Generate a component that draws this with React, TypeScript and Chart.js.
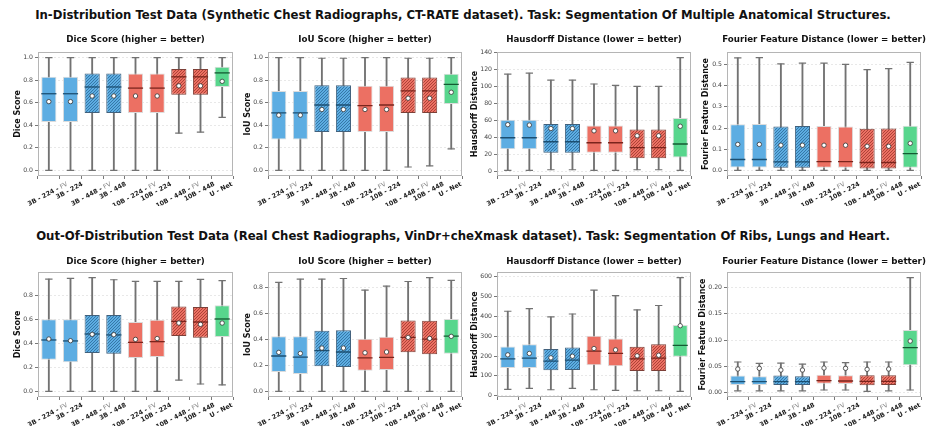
import React, { useEffect, useRef } from "react";
import { Chart, registerables } from "chart.js";

Chart.register(...registerables);

const FONT = "'DejaVu Sans', 'Noto Sans', sans-serif";

// ---------------- DATA ----------------
const categories = [
  "3B - 224 - FV", "3B - 224", "3B - 448 - FV", "3B - 448",
  "10B - 224 - FV", "10B - 224", "10B - 448 - FV", "10B - 448", "U - Net",
];

const mainTitleID = "In-Distribution Test Data (Synthetic Chest Radiographs, CT-RATE dataset). Task: Segmentation Of Multiple Anatomical Structures.";
const mainTitleOOD = "Out-Of-Distribution Test Data (Real Chest Radiographs, VinDr+cheXmask dataset). Task: Segmentation Of Ribs, Lungs and Heart.";

// In-distribution: Dice
const idDiceMin = [0, 0, 0, 0, 0, 0, 0.33, 0.34, 0.47];
const idDiceQ1 = [0.43, 0.43, 0.51, 0.51, 0.51, 0.51, 0.67, 0.67, 0.74];
const idDiceMed = [0.68, 0.68, 0.74, 0.74, 0.73, 0.73, 0.83, 0.83, 0.865];
const idDiceQ3 = [0.83, 0.83, 0.86, 0.86, 0.86, 0.86, 0.9, 0.9, 0.92];
const idDiceMax = [1, 1, 1, 1, 1, 1, 1, 1, 1];
const idDiceMean = [0.61, 0.61, 0.66, 0.66, 0.66, 0.66, 0.75, 0.75, 0.79];
const idDiceTicks = [0, 0.2, 0.4, 0.6, 0.8, 1.0];

// In-distribution: IoU
const idIouMin = [0, 0, 0, 0, 0, 0, 0.03, 0.04, 0.19];
const idIouQ1 = [0.275, 0.275, 0.34, 0.34, 0.34, 0.34, 0.51, 0.51, 0.59];
const idIouMed = [0.51, 0.51, 0.58, 0.58, 0.575, 0.58, 0.705, 0.705, 0.763];
const idIouQ3 = [0.705, 0.705, 0.755, 0.755, 0.75, 0.75, 0.825, 0.825, 0.857];
const idIouMax = [1, 1, 0.995, 0.995, 1, 1, 0.995, 0.995, 1];
const idIouMean = [0.49, 0.49, 0.54, 0.54, 0.54, 0.54, 0.64, 0.64, 0.693];
const idIouTicks = [0, 0.2, 0.4, 0.6, 0.8, 1.0];

// In-distribution: Hausdorff
const idHdMin = [1.2, 1.2, 1.9, 1.9, 1.2, 1.2, 1.9, 1.9, 1.2];
const idHdQ1 = [26, 26, 22, 22, 22, 22, 15.5, 15.5, 16.3];
const idHdMed = [39.6, 39.6, 34.9, 34.9, 33.7, 33.7, 27.9, 27.9, 32.2];
const idHdQ3 = [60.9, 60.9, 55.8, 55.8, 53.9, 53.9, 49.3, 49.3, 62.8];
const idHdMax = [114.4, 115.6, 107.4, 107.4, 102.8, 101.2, 100, 100, 133.8];
const idHdMean = [55, 54.5, 50.4, 50.4, 47.7, 47.7, 41.9, 41.9, 53.1];
const idHdTicks = [0, 20, 40, 60, 80, 100, 120, 140];

// In-distribution: Fourier feature distance
const idFfMin = [0.002, 0.002, 0.002, 0.002, 0.002, 0.002, 0.002, 0.002, 0.002];
const idFfQ1 = [0.0155, 0.0155, 0.014, 0.014, 0.014, 0.014, 0.011, 0.011, 0.014];
const idFfMed = [0.053, 0.053, 0.042, 0.042, 0.043, 0.043, 0.039, 0.039, 0.081];
const idFfQ3 = [0.219, 0.22, 0.208, 0.21, 0.21, 0.208, 0.197, 0.199, 0.211];
const idFfMax = [0.53, 0.531, 0.502, 0.505, 0.505, 0.5, 0.475, 0.48, 0.509];
const idFfMean = [0.124, 0.124, 0.12, 0.12, 0.12, 0.12, 0.115, 0.115, 0.129];
const idFfTicks = [0, 0.1, 0.2, 0.3, 0.4, 0.5];

// Out-of-distribution: Dice
const oodDiceMin = [0, 0, 0, 0, 0, 0, 0.094, 0.061, 0.053];
const oodDiceQ1 = [0.264, 0.242, 0.319, 0.314, 0.278, 0.286, 0.461, 0.447, 0.453];
const oodDiceMed = [0.428, 0.42, 0.478, 0.47, 0.408, 0.414, 0.583, 0.578, 0.603];
const oodDiceQ3 = [0.6, 0.6, 0.636, 0.636, 0.578, 0.597, 0.708, 0.703, 0.717];
const oodDiceMax = [0.936, 0.942, 0.947, 0.93, 0.917, 0.917, 0.917, 0.933, 0.922];
const oodDiceMean = [0.436, 0.422, 0.475, 0.472, 0.433, 0.44, 0.569, 0.558, 0.569];
const oodDiceTicks = [0, 0.2, 0.4, 0.6, 0.8];

// Out-of-distribution: IoU
const oodIouMin = [0, 0, 0, 0, 0, 0, 0, 0, 0];
const oodIouQ1 = [0.148, 0.133, 0.192, 0.187, 0.158, 0.164, 0.299, 0.284, 0.289];
const oodIouMed = [0.271, 0.263, 0.312, 0.302, 0.256, 0.261, 0.414, 0.401, 0.424];
const oodIouQ3 = [0.422, 0.422, 0.465, 0.468, 0.404, 0.419, 0.544, 0.542, 0.555];
const oodIouMax = [0.836, 0.861, 0.861, 0.866, 0.777, 0.808, 0.843, 0.872, 0.851];
const oodIouMean = [0.299, 0.291, 0.332, 0.332, 0.296, 0.302, 0.414, 0.406, 0.422];
const oodIouTicks = [0, 0.2, 0.4, 0.6, 0.8];

// Out-of-distribution: Hausdorff
const oodHdMin = [32, 37, 30, 37, 30, 27, 25, 25, 22];
const oodHdQ1 = [140, 140, 128, 130, 154, 149, 125, 125, 196];
const oodHdMed = [186, 189, 174, 179, 225, 213, 186, 189, 254];
const oodHdQ3 = [248, 259, 235, 243, 302, 289, 247, 259, 357];
const oodHdMax = [426, 439, 397, 412, 532, 505, 433, 455, 595];
const oodHdMean = [206, 213, 191, 199, 238, 231, 201, 204, 353];
const oodHdTicks = [0, 100, 200, 300, 400, 500, 600];

// Out-of-distribution: Fourier feature distance
const oodFfMin = [0.003, 0.003, 0.003, 0.003, 0.0045, 0.0045, 0.002, 0.003, 0.0045];
const oodFfQ1 = [0.014, 0.014, 0.014, 0.014, 0.0166, 0.016, 0.0134, 0.014, 0.0516];
const oodFfMed = [0.0204, 0.0204, 0.0204, 0.0204, 0.0223, 0.0217, 0.021, 0.021, 0.0853];
const oodFfQ3 = [0.032, 0.0306, 0.032, 0.031, 0.0338, 0.0325, 0.0325, 0.0325, 0.119];
const oodFfMax = [0.058, 0.0554, 0.056, 0.054, 0.058, 0.0567, 0.058, 0.058, 0.219];
const oodFfMean = [0.0446, 0.0459, 0.0427, 0.0427, 0.0465, 0.0459, 0.044, 0.0446, 0.098];
const oodFfTicks = [0, 0.05, 0.1, 0.15, 0.2];

// ---------------- STYLE ----------------
const BLUE = "#5DADE2";
const RED = "#EC7063";
const GREEN = "#58D68D";
const baseColors = [BLUE, BLUE, BLUE, BLUE, RED, RED, RED, RED, GREEN];
const hatchLineColors = ["", "", "#24618f", "#24618f", "", "", "#932f24", "#932f24", ""];
const edgeColors = ["#dcdcdc", "#dcdcdc", "#41617d", "#41617d", "#dcdcdc", "#dcdcdc", "#7d4038", "#7d4038", "#dcdcdc"];
const medianColors = ["#1B4F72", "#1B4F72", "#1B4F72", "#1B4F72", "#7B241C", "#7B241C", "#7B241C", "#7B241C", "#145A32"];

const colLeft = [38, 268, 497, 727];
const colRight = [233, 462, 691, 921];
const rowCanvasTop = [30, 250];
const rowTitlePad = [
  { top: 4.9, bottom: 6.7 },
  { top: 6.9, bottom: 4.7 },
];
const AXIS_W = 38;
const CANVAS_H = 176;
const ROW_XAXIS_H = [30, 29];

type Panel = {
  title: string; yTitle: string;
  min: number[]; q1: number[]; med: number[]; q3: number[]; max: number[]; mean: number[];
  ticks: number[]; dec: number; row: number; col: number; yPad: number;
};

const panels: Panel[] = [
  { title: "Dice Score (higher = better)", yTitle: "Dice Score", min: idDiceMin, q1: idDiceQ1, med: idDiceMed, q3: idDiceQ3, max: idDiceMax, mean: idDiceMean, ticks: idDiceTicks, dec: 1, row: 0, col: 0, yPad: 13 },
  { title: "IoU Score (higher = better)", yTitle: "IoU Score", min: idIouMin, q1: idIouQ1, med: idIouMed, q3: idIouQ3, max: idIouMax, mean: idIouMean, ticks: idIouTicks, dec: 1, row: 0, col: 1, yPad: 13 },
  { title: "Hausdorff Distance (lower = better)", yTitle: "Hausdorff Distance", min: idHdMin, q1: idHdQ1, med: idHdMed, q3: idHdQ3, max: idHdMax, mean: idHdMean, ticks: idHdTicks, dec: 0, row: 0, col: 2, yPad: 11 },
  { title: "Fourier Feature Distance (lower = better)", yTitle: "Fourier Feature Distance", min: idFfMin, q1: idFfQ1, med: idFfMed, q3: idFfQ3, max: idFfMax, mean: idFfMean, ticks: idFfTicks, dec: 1, row: 0, col: 3, yPad: 12 },
  { title: "Dice Score (higher = better)", yTitle: "Dice Score", min: oodDiceMin, q1: oodDiceQ1, med: oodDiceMed, q3: oodDiceQ3, max: oodDiceMax, mean: oodDiceMean, ticks: oodDiceTicks, dec: 1, row: 1, col: 0, yPad: 13 },
  { title: "IoU Score (higher = better)", yTitle: "IoU Score", min: oodIouMin, q1: oodIouQ1, med: oodIouMed, q3: oodIouQ3, max: oodIouMax, mean: oodIouMean, ticks: oodIouTicks, dec: 1, row: 1, col: 1, yPad: 13 },
  { title: "Hausdorff Distance (lower = better)", yTitle: "Hausdorff Distance", min: oodHdMin, q1: oodHdQ1, med: oodHdMed, q3: oodHdQ3, max: oodHdMax, mean: oodHdMean, ticks: oodHdTicks, dec: 0, row: 1, col: 2, yPad: 11 },
  { title: "Fourier Feature Distance (lower = better)", yTitle: "Fourier Feature Distance", min: oodFfMin, q1: oodFfQ1, med: oodFfMed, q3: oodFfQ3, max: oodFfMax, mean: oodFfMean, ticks: oodFfTicks, dec: 2, row: 1, col: 3, yPad: 9.5 },
];

function makeHatch(base: string, line: string): CanvasPattern | string {
  const s = 3;
  const c = document.createElement("canvas");
  c.width = s;
  c.height = s;
  const g = c.getContext("2d");
  if (!g) return base;
  g.fillStyle = base;
  g.fillRect(0, 0, s, s);
  g.strokeStyle = line;
  g.lineWidth = 0.7;
  g.beginPath();
  for (const k of [-s, 0, s]) {
    g.moveTo(k, s);
    g.lineTo(k + s, 0);
  }
  g.stroke();
  return g.createPattern(c, "repeat") || base;
}

const framePlugin = {
  id: "frameAndLabels",
  afterDraw(chart: any) {
    const { ctx, chartArea: ca } = chart;
    const xs = chart.scales.x;
    ctx.save();
    ctx.strokeStyle = "#b5b5b5";
    ctx.lineWidth = 1;
    ctx.strokeRect(Math.round(ca.left) + 0.5, Math.round(ca.top) + 0.5, Math.round(ca.right - ca.left) - 1, Math.round(ca.bottom - ca.top) - 1);
    const a = (28 * Math.PI) / 180;
    const fs = 6.3;
    categories.forEach((lab, i) => {
      const x = xs.getPixelForTick(i);
      let main = lab;
      let suf = "";
      if (lab.endsWith("FV")) {
        main = lab.slice(0, -2);
        suf = "FV";
      }
      ctx.font = `bold ${fs}px ${FONT}`;
      const w1 = ctx.measureText(main).width;
      ctx.font = `${fs}px ${FONT}`;
      const w2 = suf ? ctx.measureText(suf).width : 0;
      const W = w1 + w2;
      const h = W * Math.sin(a) + fs * Math.cos(a);
      const cy = ca.bottom + 5 + h / 2;
      ctx.save();
      ctx.translate(x - 1, cy);
      ctx.rotate(-a);
      ctx.textBaseline = "middle";
      ctx.textAlign = "left";
      ctx.font = `bold ${fs}px ${FONT}`;
      ctx.fillStyle = "#222";
      ctx.fillText(main, -W / 2, 0);
      if (suf) {
        ctx.font = `${fs}px ${FONT}`;
        ctx.fillStyle = "#888";
        ctx.fillText(suf, -W / 2 + w1, 0);
      }
      ctx.restore();
    });
    ctx.restore();
  },
};

function BoxPanel({ p }: { p: Panel }) {
  const ref = useRef<HTMLCanvasElement | null>(null);
  const left = colLeft[p.col] - AXIS_W;
  const width = colRight[p.col] - colLeft[p.col] + AXIS_W * 2;
  const top = rowCanvasTop[p.row];

  useEffect(() => {
    if (!ref.current) return;
    const lo = Math.min(...p.min);
    const hi = Math.max(...p.max);
    const pad = (hi - lo) * 0.05;
    const fills = baseColors.map((b, i) => (hatchLineColors[i] ? makeHatch(b, hatchLineColors[i]) : b));
    const medR = (ctx: any) => {
      const xs = ctx.chart.scales.x;
      return xs ? (xs.width / categories.length) * 0.35 : 7.5;
    };
    const capR = (ctx: any) => {
      const xs = ctx.chart.scales.x;
      return xs ? (xs.width / categories.length) * 0.17 : 3.6;
    };
    const chart = new Chart(ref.current, {
      type: "bar",
      data: {
        labels: categories,
        datasets: [
          {
            type: "bar",
            label: "whisker",
            data: p.min.map((v, i) => [v, p.max[i]]),
            backgroundColor: "#727272",
            borderWidth: 0,
            barThickness: 1.2,
            grouped: false,
            order: 5,
          } as any,
          {
            type: "bar",
            label: "box",
            data: p.q1.map((v, i) => [v, p.q3[i]]),
            backgroundColor: fills,
            borderColor: edgeColors,
            borderWidth: 1,
            borderSkipped: false,
            barPercentage: 0.7,
            categoryPercentage: 1,
            grouped: false,
            order: 4,
          } as any,
          {
            type: "line",
            label: "median",
            data: p.med,
            showLine: false,
            pointStyle: "line",
            pointRadius: medR,
            borderColor: medianColors,
            pointBorderColor: medianColors,
            pointBorderWidth: 1.3,
            order: 3,
          } as any,
          {
            type: "line",
            label: "capHigh",
            data: p.max,
            showLine: false,
            pointStyle: "line",
            pointRadius: capR,
            borderColor: "#727272",
            pointBorderColor: "#727272",
            pointBorderWidth: 1.2,
            order: 2,
          } as any,
          {
            type: "line",
            label: "capLow",
            data: p.min,
            showLine: false,
            pointStyle: "line",
            pointRadius: capR,
            borderColor: "#727272",
            pointBorderColor: "#727272",
            pointBorderWidth: 1.2,
            order: 2,
          } as any,
          {
            type: "line",
            label: "mean",
            data: p.mean,
            showLine: false,
            pointStyle: "circle",
            pointRadius: 2.2,
            borderColor: "#333",
            pointBorderColor: "#333",
            pointBackgroundColor: "#ffffff",
            pointBorderWidth: 0.8,
            order: 1,
          } as any,
        ],
      },
      options: {
        responsive: false,
        animation: false,
        events: [],
        layout: { padding: 0 },
        plugins: {
          legend: { display: false },
          tooltip: { enabled: false },
          title: {
            display: true,
            text: p.title,
            color: "#111",
            font: { family: FONT, size: 8.7, weight: "bold" },
            padding: rowTitlePad[p.row],
          },
        },
        scales: {
          x: {
            type: "category",
            offset: true,
            grid: { display: true, drawOnChartArea: false, drawTicks: true, tickLength: 3, tickColor: "#555", tickWidth: 0.8 },
            border: { display: false },
            ticks: { display: false },
            afterFit: (s: any) => {
              s.height = ROW_XAXIS_H[p.row];
            },
          },
          y: {
            type: "linear",
            position: "left",
            min: lo - pad,
            max: hi + pad,
            afterBuildTicks: (s: any) => {
              s.ticks = p.ticks.map((v) => ({ value: v }));
            },
            afterFit: (s: any) => {
              s.width = AXIS_W;
            },
            grid: { color: "#e2e2e2", lineWidth: 0.8, tickLength: 3, tickColor: "#555", tickWidth: 0.8, tickBorderDash: [] },
            border: { display: false, dash: [2, 2] },
            ticks: {
              color: "#444",
              padding: 2,
              font: { family: FONT, size: 6.2 },
              callback: (v: any) => Number(v).toFixed(p.dec),
            },
            title: {
              display: true,
              text: p.yTitle,
              color: "#111",
              font: { family: FONT, size: 8, weight: "bold" },
              padding: { top: p.yPad, bottom: 0 },
            },
          },
          yRightSpacer: {
            type: "linear",
            position: "right",
            display: true,
            grid: { display: false, drawTicks: false },
            border: { display: false },
            ticks: { display: false },
            afterFit: (s: any) => {
              s.width = AXIS_W;
            },
          },
        },
      } as any,
      plugins: [framePlugin],
    });
    return () => chart.destroy();
  }, [p]);

  return (
    <canvas
      ref={ref}
      width={width}
      height={CANVAS_H}
      style={{ position: "absolute", left, top, width, height: CANVAS_H }}
    />
  );
}

export default function App() {
  const titleStyle: React.CSSProperties = {
    position: "absolute",
    left: 0,
    width: 926,
    textAlign: "center",
    fontFamily: FONT,
    fontWeight: "bold",
    fontSize: 11.7,
    lineHeight: "14px",
    color: "#111",
    whiteSpace: "nowrap",
  };
  return (
    <div style={{ position: "absolute", left: 0, top: 0, width: 926, height: 426, background: "#fff", overflow: "hidden" }}>
      <div style={{ ...titleStyle, top: 8 }}>{mainTitleID}</div>
      <div style={{ ...titleStyle, top: 229 }}>{mainTitleOOD}</div>
      {panels.map((p, i) => (
        <BoxPanel key={i} p={p} />
      ))}
    </div>
  );
}
